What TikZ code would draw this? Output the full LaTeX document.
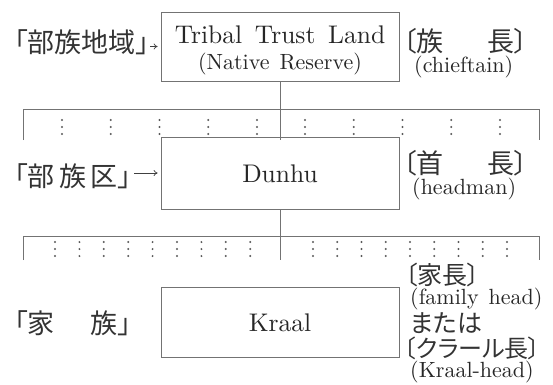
\documentclass[tikz,border=0pt]{standalone}
\usepackage{fontspec}
\setmainfont{lmroman10-regular}[Extension=.otf]
\newfontfamily\jp[RawFeature=+palt]{Noto Sans CJK JP}
\usetikzlibrary{arrows.meta}
\begin{document}
\begin{tikzpicture}[x=1pt,y=-1pt,
  box/.style={draw=black!55, line width=0.7pt, rectangle, minimum width=238pt, inner sep=0pt},
  ln/.style={draw=black!55, line width=0.7pt},
  main/.style={text=black!85, inner sep=0pt, font=\fontsize{25.5}{27}\selectfont, anchor=base},
  sub/.style={text=black!85, inner sep=0pt, font=\fontsize{22}{24}\selectfont, anchor=base west},
  jpl/.style={text=black!80, inner sep=0pt, font=\jp\fontsize{27}{29}\selectfont, anchor=base west},
  jps/.style={jpl, font=\jp\fontsize{25}{27}\selectfont},
  arr/.style={draw=black!75, line width=0.7pt, -{To[length=4pt,width=6pt]}},
  dotc/.style={fill=black!65}]
\useasboundingbox (0,0) rectangle (553,384);

% boxes
\node[box, minimum height=69pt] (b1) at (280,46.5) {};
\node[box, minimum height=72pt] (b2) at (280,173) {};
\node[box, minimum height=70pt] (b3) at (280,322) {};

% box texts
\node[main] (t1) at (280,43) {Tribal\hspace{0.5em}Trust\hspace{0.5em}Land};
\node[main, font=\fontsize{22}{24}\selectfont] (t1b) at (280,69) {(Native\hspace{0.45em}Reserve)};
\node[main] (t2) at (280,182) {Dunhu};
\node[main] (t3) at (280,331) {Kraal};

% left labels
\node[jpl] (l1) at (14,52) {「部族地域」};
\node[jpl] (l2) at (14,186) {\makebox[117pt][s]{「部\hfill 族\hfill 区」}};
\node[jpl] (l3) at (14,333) {\makebox[117pt][s]{「家\hfill 族」}};
\draw[arr, shorten <=1pt, shorten >=3pt] (l1.east |- b1.west) -- (b1.west);
\draw[arr, shorten <=3pt, shorten >=3pt] (l2.east |- b2.west) -- (b2.west);

% right labels
\node[jpl] (r1a) at (403,51) {\makebox[125pt][s]{〔族\hfill 長〕}};
\node[sub] (r1b) at (414,72) {(chieftain)};
\node[jpl] (r2a) at (403,173) {\makebox[125pt][s]{〔首\hfill 長〕}};
\node[sub] (r2b) at (412,194) {(headman)};
\node[jps] (r3a) at (405,284) {〔家長〕};
\node[sub] (r3b) at (410,304) {(family\hspace{0.45em}head)};
\node[jps] (r3c) at (410,332) {または};
\node[jps, font=\jp\fontsize{24}{26}\selectfont] (r3d) at (404,357) {〔クラール長〕};
\node[sub] (r3e) at (410,377) {(Kraal-head)};

% tree lines, level 1
\coordinate (h1l) at (23,109);
\coordinate (h1r) at (539,109);
\coordinate (e1) at (280,140);
\draw[ln] (b1.south) -- (e1);
\draw[ln] (h1l) ++(0,31) -- (h1l) -- (h1r) -- ++(0,31);
\foreach \i in {0,...,4} {
  \foreach \y in {120,127,134} {
    \fill[dotc] (62+48.75*\i,\y) circle (1.1pt);
    \fill[dotc] (305+48.75*\i,\y) circle (1.1pt);
  }
}

% tree lines, level 2
\coordinate (h2l) at (23,236);
\coordinate (h2r) at (539,236);
\coordinate (e2) at (280,260);
\draw[ln] (b2.south) -- (e2);
\draw[ln] (h2l) ++(0,24) -- (h2l) -- (h2r) -- ++(0,24);
\foreach \i in {0,...,8} {
  \foreach \y in {242,249,256} {
    \fill[dotc] (55+24.4*\i,\y) circle (1.1pt);
    \fill[dotc] (313+24.25*\i,\y) circle (1.1pt);
  }
}
\end{tikzpicture}
\end{document}
